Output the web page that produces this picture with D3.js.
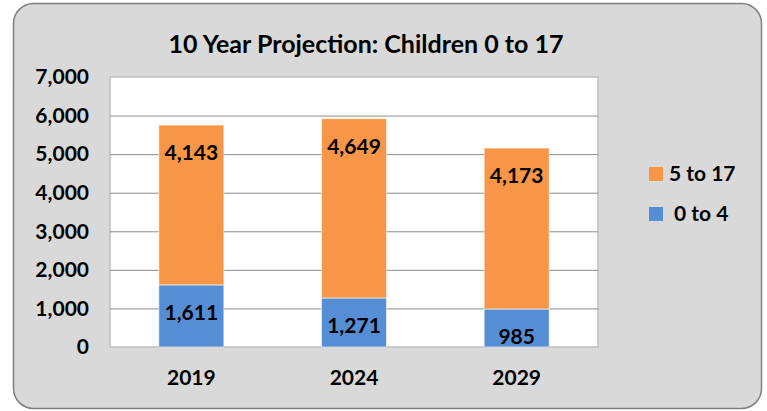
<!DOCTYPE html>
<html>
<head>
<meta charset="utf-8">
<script src="https://cdn.jsdelivr.net/npm/d3@7"></script>
<style>
  body { margin: 0; background: #fff; }
  text { font-family: Lato, "Open Sans", sans-serif; font-weight: bold; fill: #000; }
</style>
</head>
<body>
<div id="chart"></div>
<script>
const years = ['2019', '2024', '2029'];
const age0to4 = [1611, 1271, 985];
const age5to17 = [4143, 4649, 4173];
const yTicks = [0, 1000, 2000, 3000, 4000, 5000, 6000, 7000];
const seriesNames = ['0 to 4', '5 to 17'];

const colors = { '0 to 4': '#558ED5', '5 to 17': '#F79646' };

const W = 767;
const H = 411;
const plot = { left: 110, right: 598, top: 77, bottom: 347 };

const svg = d3.select('#chart')
  .append('svg')
  .attr('width', W)
  .attr('height', H);

// outer frame
svg.append('rect')
  .attr('x', 13.5)
  .attr('y', 3.5)
  .attr('width', 748)
  .attr('height', 405)
  .attr('rx', 20)
  .attr('fill', '#d9d9d9')
  .attr('stroke', '#7f7f7f')
  .attr('stroke-width', 1.5);

svg.append('text')
  .attr('x', 366)
  .attr('y', 53)
  .attr('text-anchor', 'middle')
  .style('font-size', '25px')
  .text('10 Year Projection: Children 0 to 17');

const xScale = d3.scaleBand()
  .domain(years)
  .range([plot.left, plot.right])
  .paddingInner(0.6)
  .paddingOuter(0.3);

const yScale = d3.scaleLinear()
  .domain([0, 7000])
  .range([plot.bottom, plot.top]);

// plot area
svg.append('rect')
  .attr('x', plot.left)
  .attr('y', plot.top)
  .attr('width', plot.right - plot.left)
  .attr('height', plot.bottom - plot.top)
  .attr('fill', '#fff')
  .attr('stroke', '#bfbfbf')
  .attr('stroke-width', 1.5);

const grid = svg.append('g')
  .attr('transform', `translate(${plot.left},0)`)
  .call(d3.axisLeft(yScale)
    .tickValues(yTicks.filter((t) => t > 0 && t < 7000))
    .tickSize(-(plot.right - plot.left))
    .tickFormat(''));
grid.select('.domain').remove();
grid.selectAll('line').attr('stroke', '#8c8c8c').attr('stroke-width', 1);

const yAxis = svg.append('g')
  .attr('transform', `translate(${plot.left},0)`)
  .call(d3.axisLeft(yScale)
    .tickValues(yTicks)
    .tickSize(0)
    .tickPadding(21)
    .tickFormat(d3.format(',')));
yAxis.select('.domain').remove();
yAxis.selectAll('text')
  .style('font-size', '21px')
  .style('font-family', 'Lato, sans-serif')
  .style('font-weight', 'bold')
  .attr('fill', '#000');

const xAxis = svg.append('g')
  .attr('transform', `translate(0,${plot.bottom})`)
  .call(d3.axisBottom(xScale).tickSize(0).tickPadding(23));
xAxis.select('.domain').remove();
xAxis.selectAll('text')
  .style('font-size', '21px')
  .style('font-family', 'Lato, sans-serif')
  .style('font-weight', 'bold')
  .attr('fill', '#000');

const table = years.map((y, i) => ({ year: y, '0 to 4': age0to4[i], '5 to 17': age5to17[i] }));
const stacked = d3.stack().keys(seriesNames)(table);

const layers = svg.append('g')
  .selectAll('g')
  .data(stacked)
  .enter()
  .append('g')
  .attr('fill', (d) => colors[d.key]);

layers.selectAll('rect')
  .data((d) => d)
  .enter()
  .append('rect')
  .attr('x', (d) => xScale(d.data.year))
  .attr('y', (d) => yScale(d[1]))
  .attr('width', xScale.bandwidth())
  .attr('height', (d) => yScale(d[0]) - yScale(d[1]))
  .attr('stroke', '#fff')
  .attr('stroke-opacity', 0.6)
  .attr('stroke-width', 1);

layers.selectAll('text')
  .data((d) => d)
  .enter()
  .append('text')
  .attr('x', (d) => xScale(d.data.year) + xScale.bandwidth() / 2)
  .attr('y', (d) => yScale(d[1]) + 35)
  .attr('text-anchor', 'middle')
  .style('font-size', '21px')
  .text((d) => d3.format(',')(d[1] - d[0]));

// legend
const legendItems = [
  { key: '5 to 17', label: '5 to 17', y: 174, dx: 0 },
  { key: '0 to 4', label: '0 to 4', y: 214, dx: 5 },
];
const legend = svg.append('g')
  .selectAll('g')
  .data(legendItems)
  .enter()
  .append('g')
  .attr('transform', (d) => `translate(649,${d.y})`);

legend.append('rect')
  .attr('x', 0)
  .attr('y', -7)
  .attr('width', 14)
  .attr('height', 14)
  .attr('fill', (d) => colors[d.key]);

legend.append('text')
  .attr('x', (d) => 20 + d.dx)
  .attr('y', 7)
  .style('font-size', '21px')
  .text((d) => d.label);
</script>
</body>
</html>
